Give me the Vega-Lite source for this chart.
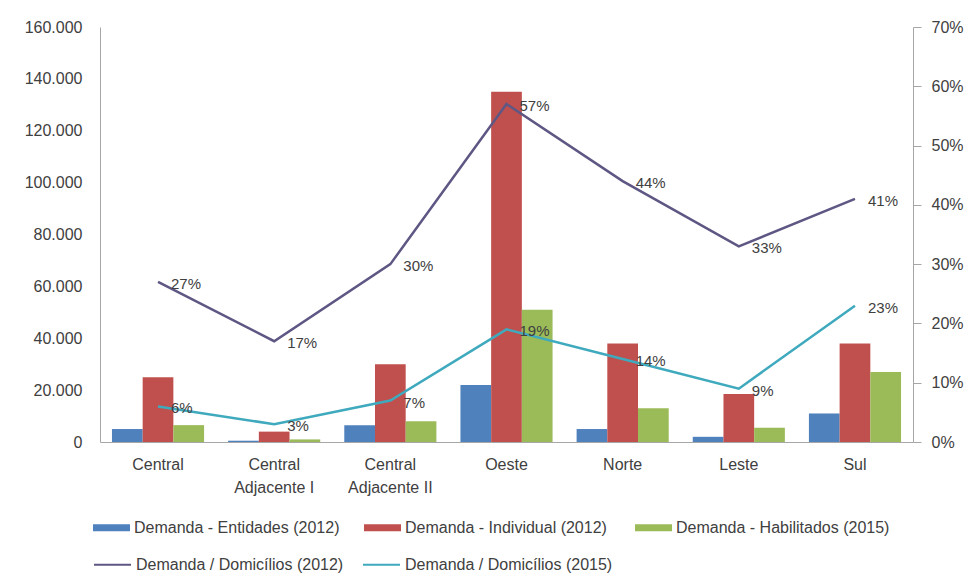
{
  "$schema": "https://vega.github.io/schema/vega-lite/v6.json",
  "width": 813,
  "height": 415,
  "autosize": {"type": "none"},
  "padding": {"left": 100, "top": 27, "right": 56, "bottom": 143},
  "background": "white",
  "datasets": {
    "bars": [
      {"regiao": "Central", "serie": "Demanda - Entidades (2012)", "valor": 5000},
      {"regiao": "Central", "serie": "Demanda - Individual (2012)", "valor": 25000},
      {"regiao": "Central", "serie": "Demanda - Habilitados (2015)", "valor": 6500},
      {"regiao": "Central Adjacente I", "serie": "Demanda - Entidades (2012)", "valor": 500},
      {"regiao": "Central Adjacente I", "serie": "Demanda - Individual (2012)", "valor": 4000},
      {"regiao": "Central Adjacente I", "serie": "Demanda - Habilitados (2015)", "valor": 1000},
      {"regiao": "Central Adjacente II", "serie": "Demanda - Entidades (2012)", "valor": 6500},
      {"regiao": "Central Adjacente II", "serie": "Demanda - Individual (2012)", "valor": 30000},
      {"regiao": "Central Adjacente II", "serie": "Demanda - Habilitados (2015)", "valor": 8000},
      {"regiao": "Oeste", "serie": "Demanda - Entidades (2012)", "valor": 22000},
      {"regiao": "Oeste", "serie": "Demanda - Individual (2012)", "valor": 135000},
      {"regiao": "Oeste", "serie": "Demanda - Habilitados (2015)", "valor": 51000},
      {"regiao": "Norte", "serie": "Demanda - Entidades (2012)", "valor": 5000},
      {"regiao": "Norte", "serie": "Demanda - Individual (2012)", "valor": 38000},
      {"regiao": "Norte", "serie": "Demanda - Habilitados (2015)", "valor": 13000},
      {"regiao": "Leste", "serie": "Demanda - Entidades (2012)", "valor": 2000},
      {"regiao": "Leste", "serie": "Demanda - Individual (2012)", "valor": 18500},
      {"regiao": "Leste", "serie": "Demanda - Habilitados (2015)", "valor": 5500},
      {"regiao": "Sul", "serie": "Demanda - Entidades (2012)", "valor": 11000},
      {"regiao": "Sul", "serie": "Demanda - Individual (2012)", "valor": 38000},
      {"regiao": "Sul", "serie": "Demanda - Habilitados (2015)", "valor": 27000}
    ],
    "lines": [
      {"regiao": "Central", "serie": "Demanda / Domicílios (2012)", "pct": 0.27},
      {"regiao": "Central Adjacente I", "serie": "Demanda / Domicílios (2012)", "pct": 0.17},
      {"regiao": "Central Adjacente II", "serie": "Demanda / Domicílios (2012)", "pct": 0.30},
      {"regiao": "Oeste", "serie": "Demanda / Domicílios (2012)", "pct": 0.57},
      {"regiao": "Norte", "serie": "Demanda / Domicílios (2012)", "pct": 0.44},
      {"regiao": "Leste", "serie": "Demanda / Domicílios (2012)", "pct": 0.33},
      {"regiao": "Sul", "serie": "Demanda / Domicílios (2012)", "pct": 0.41},
      {"regiao": "Central", "serie": "Demanda / Domicílios (2015)", "pct": 0.06},
      {"regiao": "Central Adjacente I", "serie": "Demanda / Domicílios (2015)", "pct": 0.03},
      {"regiao": "Central Adjacente II", "serie": "Demanda / Domicílios (2015)", "pct": 0.07},
      {"regiao": "Oeste", "serie": "Demanda / Domicílios (2015)", "pct": 0.19},
      {"regiao": "Norte", "serie": "Demanda / Domicílios (2015)", "pct": 0.14},
      {"regiao": "Leste", "serie": "Demanda / Domicílios (2015)", "pct": 0.09},
      {"regiao": "Sul", "serie": "Demanda / Domicílios (2015)", "pct": 0.23}
    ]
  },
  "config": {
    "view": {"stroke": null},
    "font": "Liberation Sans",
    "axis": {
      "labelFont": "Liberation Sans",
      "labelFontSize": 16,
      "labelColor": "#404040",
      "grid": false,
      "domainColor": "#A6A6A6",
      "tickColor": "#A6A6A6",
      "title": null
    },
    "legend": {
      "labelFont": "Liberation Sans",
      "labelFontSize": 16,
      "labelColor": "#404040",
      "labelLimit": 400
    }
  },
  "layer": [
    {
      "data": {"name": "bars"},
      "mark": {"type": "bar"},
      "encoding": {
        "x": {
          "field": "regiao",
          "type": "nominal",
          "sort": ["Central", "Central Adjacente I", "Central Adjacente II", "Oeste", "Norte", "Leste", "Sul"],
          "scale": {"paddingInner": 0.207, "paddingOuter": 0.103},
          "axis": {
            "title": null,
            "labelAngle": 0,
            "ticks": false,
            "labelPadding": 14,
            "labelLineHeight": 23,
            "labelExpr": "datum.value == 'Central Adjacente I' ? ['Central', 'Adjacente I'] : datum.value == 'Central Adjacente II' ? ['Central', 'Adjacente II'] : datum.label"
          }
        },
        "xOffset": {
          "field": "serie",
          "type": "nominal",
          "sort": ["Demanda - Entidades (2012)", "Demanda - Individual (2012)", "Demanda - Habilitados (2015)"]
        },
        "y": {
          "field": "valor",
          "type": "quantitative",
          "scale": {"domain": [0, 160000]},
          "axis": {
            "orient": "left",
            "title": null,
            "values": [0, 20000, 40000, 60000, 80000, 100000, 120000, 140000, 160000],
            "ticks": false,
            "labelPadding": 18,
            "labelExpr": "replace(format(datum.value, ','), ',', '.')"
          }
        },
        "color": {
          "field": "serie",
          "type": "nominal",
          "scale": {
            "domain": ["Demanda - Entidades (2012)", "Demanda - Individual (2012)", "Demanda - Habilitados (2015)"],
            "range": ["#4F81BD", "#C0504D", "#9BBB59"]
          },
          "legend": {
            "orient": "none",
            "legendX": -7,
            "legendY": 482,
            "direction": "horizontal",
            "title": null,
            "symbolType": "M-1,-0.19L1,-0.19L1,0.19L-1,0.19Z",
            "symbolSize": 1369,
            "symbolStrokeWidth": 0,
            "labelOffset": 4,
            "columnPadding": 16,
            "gridAlign": "all",
            "padding": 0
          }
        }
      }
    },
    {
      "data": {"name": "lines"},
      "encoding": {
        "x": {
          "field": "regiao",
          "type": "nominal",
          "sort": ["Central", "Central Adjacente I", "Central Adjacente II", "Oeste", "Norte", "Leste", "Sul"]
        },
        "y": {
          "field": "pct",
          "type": "quantitative",
          "scale": {"domain": [0, 0.7]},
          "axis": {
            "orient": "right",
            "title": null,
            "format": ".0%",
            "values": [0, 0.1, 0.2, 0.3, 0.4, 0.5, 0.6, 0.7],
            "tickSize": 8,
            "labelPadding": 10
          }
        }
      },
      "layer": [
        {
          "mark": {"type": "line", "strokeWidth": 2.5},
          "encoding": {
            "stroke": {
              "field": "serie",
              "type": "nominal",
              "scale": {
                "domain": ["Demanda / Domicílios (2012)", "Demanda / Domicílios (2015)"],
                "range": ["#5E5784", "#3FA9BE"]
              },
              "legend": {
                "orient": "none",
                "legendX": -7,
                "legendY": 518,
                "direction": "horizontal",
                "title": null,
                "symbolType": "stroke",
                "symbolSize": 1369,
                "symbolStrokeWidth": 2,
                "labelOffset": 4,
                "columnPadding": 15,
                "gridAlign": "all",
                "padding": 0
              }
            }
          }
        },
        {
          "mark": {"type": "text", "align": "left", "baseline": "middle", "dx": 13, "dy": 2, "fontSize": 15, "font": "Liberation Sans", "color": "#404040"},
          "encoding": {
            "text": {"field": "pct", "type": "quantitative", "format": ".0%"}
          }
        }
      ]
    }
  ],
  "resolve": {"scale": {"y": "independent"}}
}
